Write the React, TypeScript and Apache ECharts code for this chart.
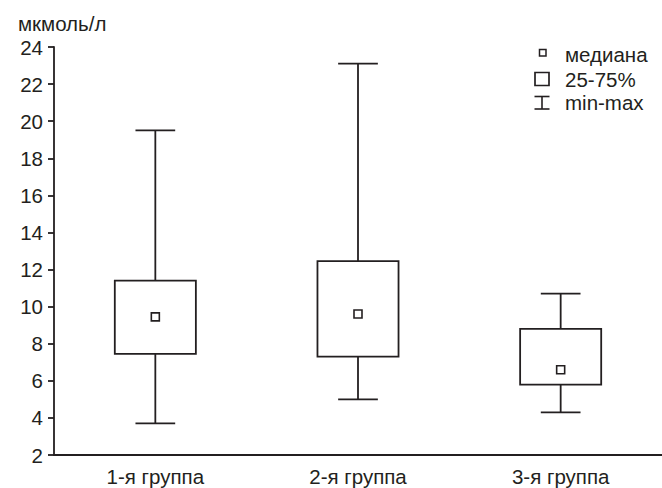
import React, { useEffect, useRef } from "react";
import * as echarts from "echarts";

const categories = ["1-я группа", "2-я группа", "3-я группа"];
const minValues = [3.7, 5.0, 4.3];
const q1Values = [7.45, 7.3, 5.8];
const medianValues = [9.45, 9.6, 6.6];
const q3Values = [11.4, 12.45, 8.8];
const maxValues = [19.5, 23.1, 10.7];
const yTicks = { min: 2, max: 24, interval: 2 };
const unitLabel = "мкмоль/л";
const legendLabels = ["медиана", "25-75%", "min-max"];

const INK = "#231f20";
const FONT = "'Liberation Sans', Arial, sans-serif";
const FS = 20.5;

export default function App() {
  const ref = useRef<HTMLDivElement>(null);
  useEffect(() => {
    if (!ref.current) return;
    const chart = echarts.init(ref.current, undefined, { renderer: "svg" });
    const data = categories.map((_, i) => [
      i,
      minValues[i],
      q1Values[i],
      medianValues[i],
      q3Values[i],
      maxValues[i],
    ]);
    const lw = 1.8;
    const option: any = {
      animation: false,
      backgroundColor: "#ffffff",
      textStyle: { fontFamily: FONT },
      grid: { left: 54, right: -4, top: 47, bottom: 33, containLabel: false },
      xAxis: {
        type: "category",
        data: categories,
        boundaryGap: true,
        axisLine: { show: true, lineStyle: { color: INK, width: lw } },
        axisTick: { show: false },
        axisLabel: { color: INK, fontSize: FS, fontFamily: FONT, margin: 11 },
        splitLine: { show: false },
      },
      yAxis: {
        type: "value",
        min: yTicks.min,
        max: yTicks.max,
        interval: yTicks.interval,
        axisLine: { show: true, lineStyle: { color: INK, width: lw } },
        axisTick: { show: true, length: 6, lineStyle: { color: INK, width: lw } },
        axisLabel: { color: INK, fontSize: FS, fontFamily: FONT, margin: 11 },
        splitLine: { show: false },
      },
      series: [
        {
          type: "custom",
          data,
          encode: { x: 0, y: [1, 2, 3, 4, 5] },
          renderItem: (params: any, api: any) => {
            const idx = api.value(0);
            const pMin = api.coord([idx, api.value(1)]);
            const pQ1 = api.coord([idx, api.value(2)]);
            const pMed = api.coord([idx, api.value(3)]);
            const pQ3 = api.coord([idx, api.value(4)]);
            const pMax = api.coord([idx, api.value(5)]);
            const band = api.size([1, 0])[0];
            const bw = band * 0.4;
            const cw = bw * 0.49;
            const cx = pMin[0];
            const ls = { stroke: INK, lineWidth: lw, fill: null };
            const ms = 8;
            return {
              type: "group",
              children: [
                { type: "line", shape: { x1: cx, y1: pQ3[1], x2: cx, y2: pMax[1] }, style: ls },
                { type: "line", shape: { x1: cx, y1: pQ1[1], x2: cx, y2: pMin[1] }, style: ls },
                { type: "line", shape: { x1: cx - cw / 2, y1: pMax[1], x2: cx + cw / 2, y2: pMax[1] }, style: ls },
                { type: "line", shape: { x1: cx - cw / 2, y1: pMin[1], x2: cx + cw / 2, y2: pMin[1] }, style: ls },
                {
                  type: "rect",
                  shape: { x: cx - bw / 2, y: pQ3[1], width: bw, height: pQ1[1] - pQ3[1] },
                  style: { stroke: INK, lineWidth: lw, fill: "#ffffff" },
                },
                {
                  type: "rect",
                  shape: { x: cx - ms / 2, y: pMed[1] - ms / 2, width: ms, height: ms },
                  style: { stroke: INK, lineWidth: 1.6, fill: "#ffffff" },
                },
              ],
            };
          },
        },
      ],
      graphic: [
        {
          type: "text",
          left: 18,
          top: 13,
          style: { text: unitLabel, font: `${FS}px ${FONT}`, fill: INK },
        },
        {
          type: "rect",
          shape: { x: 539.5, y: 49.5, width: 6.5, height: 6.5 },
          style: { stroke: INK, lineWidth: 1.5, fill: "#fff" },
        },
        {
          type: "rect",
          shape: { x: 535, y: 72.5, width: 14, height: 13 },
          style: { stroke: INK, lineWidth: 1.7, fill: "#fff" },
        },
        {
          type: "line",
          shape: { x1: 534.5, y1: 96.5, x2: 549.5, y2: 96.5 },
          style: { stroke: INK, lineWidth: 1.6 },
        },
        {
          type: "line",
          shape: { x1: 542, y1: 96.5, x2: 542, y2: 109 },
          style: { stroke: INK, lineWidth: 1.6 },
        },
        {
          type: "line",
          shape: { x1: 534.5, y1: 109, x2: 549.5, y2: 109 },
          style: { stroke: INK, lineWidth: 1.6 },
        },
        ...legendLabels.map((t, i) => ({
          type: "text",
          x: 565,
          y: [54, 79, 102][i],
          style: { text: t, font: `${FS}px ${FONT}`, fill: INK, verticalAlign: "middle", align: "left" },
        })),
      ],
    };
    chart.setOption(option);
    return () => chart.dispose();
  }, []);
  return (
    <div
      ref={ref}
      style={{ position: "fixed", left: 0, top: 0, width: 662, height: 488, background: "#fff" }}
    />
  );
}
